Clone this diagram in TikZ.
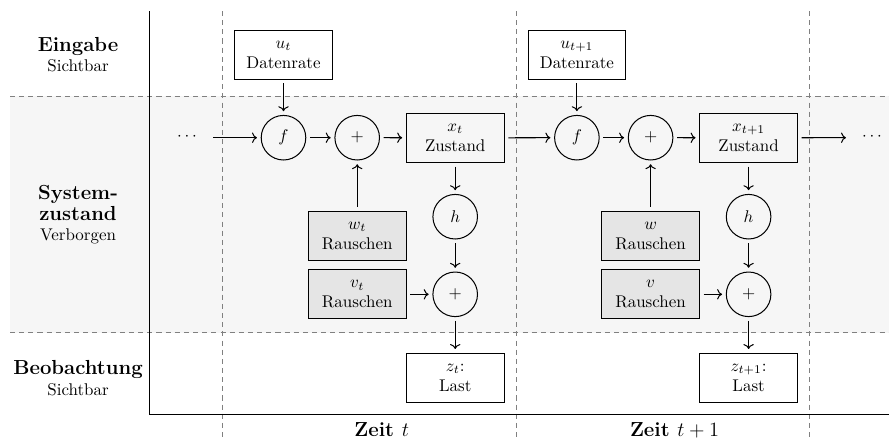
\documentclass[tikz,border=0pt]{standalone}
\usetikzlibrary{arrows.meta}
\begin{document}
\begin{tikzpicture}[x=0.59pt,y=-0.59pt,
  box/.style={draw, line width=0.6pt, align=center, minimum width=57.6pt, minimum height=28.9pt, inner sep=1pt},
  noise/.style={box, fill=gray!20},
  op/.style={draw, circle, line width=0.6pt, minimum size=26.3pt, inner sep=0pt},
  arr/.style={->, line width=0.6pt, shorten >=2.2pt, shorten <=2.2pt},
  grid/.style={gray, line width=0.5pt, dash pattern=on 3pt off 2.4pt},
  headlab/.style={font=\large\bfseries, inner sep=0pt, anchor=base},
  sublab/.style={inner sep=0pt, anchor=base},
  timelab/.style={font=\large\bfseries, inner sep=0pt, anchor=base}]
\useasboundingbox (0,0) rectangle (889,441);
% band
\fill[gray!7] (10,96) rectangle (889,332.7);
% grid
\draw[grid] (10,96) -- (889,96);
\draw[grid] (10,332.7) -- (889,332.7);
\draw[grid] (222.3,11) -- (222.3,441);
\draw[grid] (516.3,11) -- (516.3,441);
\draw[grid] (809.3,11) -- (809.3,441);
% axes
\draw[line width=0.5pt] (149,11) -- (149,414.3) -- (889,414.3);
% row labels
\node[headlab] (lab1) at (78,51.7) {Eingabe};
\node[sublab] (sub1) at (78,71.7) {Sichtbar};
\node[headlab] (lab2a) at (78,199) {System-};
\node[headlab] (lab2b) at (78,220) {zustand};
\node[sublab] (sub2) at (78,240) {Verborgen};
\node[headlab] (lab3) at (78,374) {Beobachtung};
\node[sublab] (sub3) at (78,395) {Sichtbar};
% time labels
\node[timelab] (tl1) at (381.7,436.5) {Zeit $t$};
\node[timelab] (tl2) at (674.5,436.5) {Zeit $t+1$};
% step t
\node[box] (u1) at (283.5,54.7) {$u_t$\\Datenrate};
\node[op] (f1) at (283.5,137.7) {$f$};
\node[op] (p1) at (357.2,137.7) {$+$};
\node[box] (x1) at (455.2,137.8) {$x_t$\\Zustand};
\node[op] (h1) at (455.2,216.7) {$h$};
\node[op] (q1) at (455.2,294.3) {$+$};
\node[box] (z1) at (455.2,377.7) {$z_t$:\\Last};
\node[noise] (w1) at (357.2,235.7) {$w_t$\\Rauschen};
\node[noise] (v1) at (357.2,294.3) {$v_t$\\Rauschen};
% step t+1
\node[box] (u2) at (576.9,54.7) {$u_{t+1}$\\Datenrate};
\node[op] (f2) at (576.9,137.7) {$f$};
\node[op] (p2) at (650.6,137.7) {$+$};
\node[box] (x2) at (748.6,137.8) {$x_{t+1}$\\Zustand};
\node[op] (h2) at (748.6,216.7) {$h$};
\node[op] (q2) at (748.6,294.3) {$+$};
\node[box] (z2) at (748.6,377.7) {$z_{t+1}$:\\Last};
\node[noise] (w2) at (650.6,235.7) {$w$\\Rauschen};
\node[noise] (v2) at (650.6,294.3) {$v$\\Rauschen};
% dots
\node (d1) at (187,137) {$\cdots$};
\node (d2) at (872,137) {$\cdots$};
\coordinate (s1) at (213,137.7);
\coordinate (e2) at (846,137.7);
% connectors
\draw[arr, shorten <=0pt] (s1) -- (f1);
\draw[arr] (u1) -- (f1);
\draw[arr] (f1) -- (p1);
\draw[arr] (p1) -- (x1);
\draw[arr] (w1) -- (p1);
\draw[arr] (x1) -- (h1);
\draw[arr] (h1) -- (q1);
\draw[arr] (v1) -- (q1);
\draw[arr] (q1) -- (z1);
\draw[arr] (x1) -- (f2);
\draw[arr] (u2) -- (f2);
\draw[arr] (f2) -- (p2);
\draw[arr] (p2) -- (x2);
\draw[arr] (w2) -- (p2);
\draw[arr] (x2) -- (h2);
\draw[arr] (h2) -- (q2);
\draw[arr] (v2) -- (q2);
\draw[arr] (q2) -- (z2);
\draw[arr, shorten >=0pt] (x2) -- (e2);
\end{tikzpicture}
\end{document}
